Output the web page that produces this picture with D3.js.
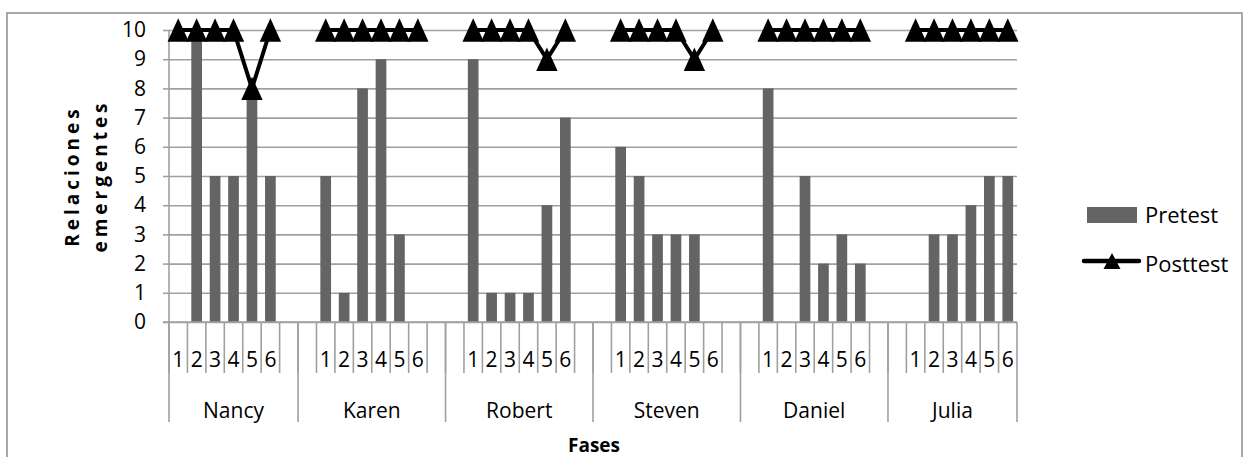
<!DOCTYPE html>
<html>
<head>
<meta charset="utf-8">
<script src="https://cdn.jsdelivr.net/npm/d3@7"></script>
<style>
  html, body { margin: 0; padding: 0; background: #fff; }
  svg { display: block; }
  text { font-family: "Open Sans", sans-serif; fill: #000; }
</style>
</head>
<body>
<div id="chart"></div>
<script>
// ---- data ----
const groups = ["Nancy", "Karen", "Robert", "Steven", "Daniel", "Julia"];
const phases = ["1", "2", "3", "4", "5", "6"];
const leadingBlanks = [0, 1, 1, 1, 1, 1];
const trailingBlanks = [1, 1, 1, 1, 1, 0];
const pretest = [
  [null, 10, 5, 5, 8, 5],
  [5, 1, 8, 9, 3, null],
  [9, 1, 1, 1, 4, 7],
  [6, 5, 3, 3, 3, null],
  [8, null, 5, 2, 3, 2],
  [null, 3, 3, 4, 5, 5]
];
const posttest = [
  [10, 10, 10, 10, 8, 10],
  [10, 10, 10, 10, 10, 10],
  [10, 10, 10, 10, 9, 10],
  [10, 10, 10, 10, 9, 10],
  [10, 10, 10, 10, 10, 10],
  [10, 10, 10, 10, 10, 10]
];
const yTicks = [0, 1, 2, 3, 4, 5, 6, 7, 8, 9, 10];
const seriesNames = ["Pretest", "Posttest"];
const yTitle = ["Relaciones", "emergentes"];
const xTitle = "Fases";

// ---- build slots ----
const slots = [];
groups.forEach((g, gi) => {
  for (let b = 0; b < leadingBlanks[gi]; b++) slots.push({ id: g + "|lb" + b, group: g, label: "" });
  phases.forEach((p, pi) => slots.push({ id: g + "|" + p, group: g, label: p, gi, pi }));
  for (let b = 0; b < trailingBlanks[gi]; b++) slots.push({ id: g + "|tb" + b, group: g, label: "" });
});

const W = 1250, H = 457;
const plot = { left: 169, right: 1017, top: 30, bottom: 322 };
const gridColor = "#a0a0a0";
const barColor = "#646464";

const svg = d3.select("#chart").append("svg").attr("width", W).attr("height", H);

// outer border
svg.append("rect").attr("x", 7).attr("y", 13).attr("width", 1235).attr("height", 470)
  .attr("fill", "none").attr("stroke", "#8c8c8c").attr("stroke-width", 1.5);

const x = d3.scaleBand().domain(slots.map(s => s.id)).range([plot.left, plot.right]).padding(0);
const y = d3.scaleLinear().domain([0, 10]).range([plot.bottom, plot.top]);

// gridlines + y axis
const yAxis = d3.axisLeft(y).tickValues(yTicks).tickSize(-(plot.right - plot.left)).tickPadding(0).tickFormat(d3.format("d"));
const gy = svg.append("g").attr("transform", `translate(${plot.left},0)`).call(yAxis);
gy.select(".domain").remove();
gy.selectAll(".tick line").attr("stroke", gridColor).attr("stroke-width", 1.6);
gy.selectAll(".tick").append("line").attr("x1", -6).attr("x2", 0).attr("stroke", gridColor).attr("stroke-width", 1.6);
gy.selectAll(".tick text").attr("x", -23).attr("font-size", 21).attr("font-family", "Open Sans").attr("fill", "#000");

// y axis line
svg.append("line").attr("x1", plot.left).attr("x2", plot.left).attr("y1", plot.top).attr("y2", plot.bottom)
  .attr("stroke", gridColor).attr("stroke-width", 1.6);

// bars
const bw = x.bandwidth() * 0.58;
const barData = [];
slots.forEach(s => { if (s.label !== "" && pretest[s.gi][s.pi] != null) barData.push({ s, v: pretest[s.gi][s.pi] }); });
svg.append("g").selectAll("rect").data(barData).join("rect")
  .attr("x", d => x(d.s.id) + (x.bandwidth() - bw) / 2)
  .attr("width", bw)
  .attr("y", d => y(d.v))
  .attr("height", d => y(0) - y(d.v))
  .attr("fill", barColor);

// category axis
const cat = svg.append("g");
const tickColor = "#a0a0a0";
slots.forEach((s, i) => {
  const xs = x(s.id);
  cat.append("line").attr("x1", xs).attr("x2", xs).attr("y1", plot.bottom).attr("y2", 373)
    .attr("stroke", tickColor).attr("stroke-width", 1.6);
  if (s.label) {
    cat.append("text").attr("x", xs + x.bandwidth() / 2).attr("y", 367)
      .attr("text-anchor", "middle").attr("font-size", 21).text(s.label);
  }
});
groups.forEach((g, gi) => {
  const gs = slots.filter(s => s.group === g);
  const x0 = x(gs[0].id), x1 = x(gs[gs.length - 1].id) + x.bandwidth();
  cat.append("line").attr("x1", x0).attr("x2", x0).attr("y1", plot.bottom).attr("y2", 422)
    .attr("stroke", tickColor).attr("stroke-width", 1.6);
  if (gi === groups.length - 1) {
    cat.append("line").attr("x1", x1).attr("x2", x1).attr("y1", plot.bottom).attr("y2", 422)
      .attr("stroke", tickColor).attr("stroke-width", 1.6);
  }
  cat.append("text").attr("x", (x0 + x1) / 2).attr("y", 418).attr("text-anchor", "middle")
    .attr("font-size", 21).text(g);
});
svg.append("line").attr("x1", plot.left - 6).attr("x2", plot.right).attr("y1", plot.bottom).attr("y2", plot.bottom)
  .attr("stroke", gridColor).attr("stroke-width", 1.6);

// posttest line + markers
const tri = (hw, hh) => `M0,${-hh}L${hw},${hh}L${-hw},${hh}Z`;
const line = d3.line().x(d => x(d.id) + x.bandwidth() / 2).y(d => y(d.v));
groups.forEach((g, gi) => {
  const pts = phases.map((p, pi) => ({ id: g + "|" + p, v: posttest[gi][pi] }));
  svg.append("path").datum(pts).attr("d", line).attr("fill", "none")
    .attr("stroke", "#000").attr("stroke-width", 4).attr("stroke-linejoin", "round");
  svg.append("g").selectAll("path").data(pts).join("path")
    .attr("transform", d => `translate(${x(d.id) + x.bandwidth() / 2},${y(d.v)})`)
    .attr("d", tri(10.7, 11.7)).attr("fill", "#000");
});

// axis titles
const yt = svg.append("g");
yTitle.forEach((t, i) => {
  yt.append("text").attr("transform", `translate(${79 + i * 28},176) rotate(-90)`)
    .attr("text-anchor", "middle").attr("font-size", 19).attr("font-weight", "bold")
    .attr("letter-spacing", 4).text(t);
});
svg.append("text").attr("x", 594).attr("y", 452).attr("text-anchor", "middle")
  .attr("font-size", 19).attr("font-weight", "bold").text(xTitle);

// legend
const lg = svg.append("g");
lg.append("rect").attr("x", 1087).attr("y", 207).attr("width", 50).attr("height", 16).attr("fill", barColor);
lg.append("text").attr("x", 1145).attr("y", 223).attr("font-size", 22).text(seriesNames[0]);
lg.append("line").attr("x1", 1084).attr("x2", 1139).attr("y1", 261).attr("y2", 261)
  .attr("stroke", "#000").attr("stroke-width", 4.5).attr("stroke-linecap", "round");
lg.append("path").attr("transform", "translate(1112,261)").attr("d", tri(8.5, 8)).attr("fill", "#000");
lg.append("text").attr("x", 1145).attr("y", 272).attr("font-size", 22).text(seriesNames[1]);
</script>
</body>
</html>
